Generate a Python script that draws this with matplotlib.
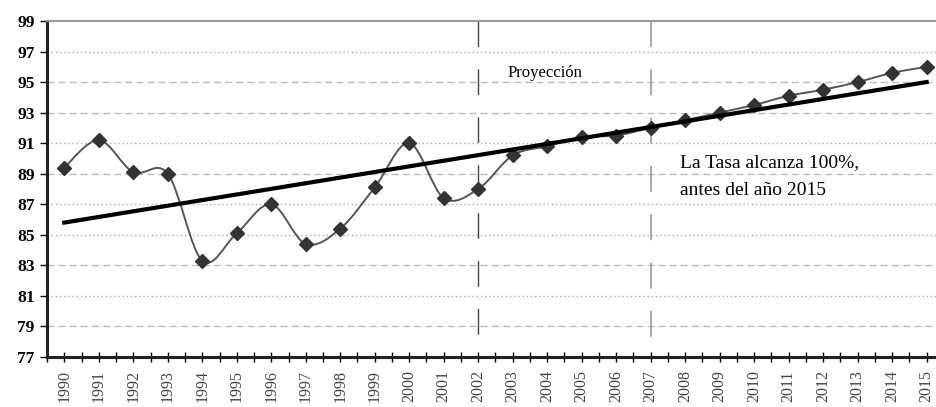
import matplotlib
matplotlib.use("Agg")
import matplotlib.pyplot as plt
from matplotlib.path import Path
from matplotlib.patches import PathPatch
import numpy as np

years = [str(y) for y in range(1990, 2016)]
tasa = [89.4, 91.2, 89.1, 89.0, 83.3, 85.1, 87.0, 84.4, 85.4, 88.1,
        91.0, 87.4, 88.0, 90.2, 90.8, 91.4, 91.5, 92.0, 92.5, 93.0,
        93.5, 94.1, 94.5, 95.0, 95.6, 96.0]
trend_years = [0, 25]
trend_vals = [85.8, 95.0]
yticks = list(range(77, 100, 2))
grid_dotted = [97, 91, 87, 85, 81]
grid_dashed = [95, 93, 89, 83, 79]

plt.rcParams['font.family'] = ['Liberation Serif', 'DejaVu Serif']

fig = plt.figure(figsize=(9.37, 4.07), dpi=100)
ax = fig.add_axes([0.0502, 0.1229, 0.9498, 0.8256])

x = np.arange(len(tasa))
y = np.array(tasa)

# smoothed line (Catmull-Rom -> bezier) like Excel's smoothed series
verts = [(x[0], y[0])]
codes = [Path.MOVETO]
n = len(x)
for i in range(n - 1):
    p0 = np.array([x[max(i - 1, 0)], y[max(i - 1, 0)]])
    p1 = np.array([x[i], y[i]])
    p2 = np.array([x[i + 1], y[i + 1]])
    p3 = np.array([x[min(i + 2, n - 1)], y[min(i + 2, n - 1)]])
    c1 = p1 + (p2 - p0) / 6
    c2 = p2 - (p3 - p1) / 6
    verts += [tuple(c1), tuple(c2), tuple(p2)]
    codes += [Path.CURVE4] * 3
ax.add_patch(PathPatch(Path(verts, codes), fill=False, edgecolor='#555555', lw=1.4, zorder=3))
ax.plot(x, y, linestyle='none', marker='D', markersize=7.5, color='#333333', zorder=4)

ax.plot(trend_years, trend_vals, color='black', lw=3, zorder=5)

for g in grid_dotted:
    ax.axhline(g, color='#aaaaaa', lw=1, ls=(0, (1, 2)), zorder=1)
for g in grid_dashed:
    ax.axhline(g, color='#bbbbbb', lw=1, ls=(0, (5, 3)), zorder=1)

# projection period markers, dashes start at the top
ax.plot([12, 12], [99, 77.9], color='#444444', lw=1, ls=(0, (18.5, 16)), zorder=2)
ax.plot([17, 17], [99, 77.9], color='#999999', lw=1.2, ls=(0, (15.5, 13.5)), zorder=2)

ax.text(12.85, 95.6, 'Proyección', fontsize=12, va='center', ha='left')
ax.text(17.85, 89.7, 'La Tasa alcanza 100%,', fontsize=14, va='center', ha='left')
ax.text(17.85, 87.9, 'antes del año 2015', fontsize=14, va='center', ha='left')

ax.set_xlim(-0.48, 25.3)
ax.set_ylim(77, 99)
ax.set_yticks(yticks)
ax.set_yticklabels([str(t) for t in yticks], fontsize=12.5, fontweight='bold')
ax.set_xticks(x)
ax.set_xticks(np.arange(-0.5, 25.5, 1), minor=True)
ax.set_xticklabels(years, rotation=90, fontsize=11.5, color='#444444', va='top')
ax.tick_params(axis='x', which='both', direction='inout', length=7, width=1, pad=6)
ax.tick_params(axis='y', which='both', direction='out', length=5, width=1, pad=4)

for s in ['left', 'bottom']:
    ax.spines[s].set_linewidth(2.2)
    ax.spines[s].set_color('#222222')
ax.spines['top'].set_color('#999999')
ax.spines['top'].set_linewidth(1.5)
ax.spines['right'].set_visible(False)

fig.savefig('out.png', dpi=100)
